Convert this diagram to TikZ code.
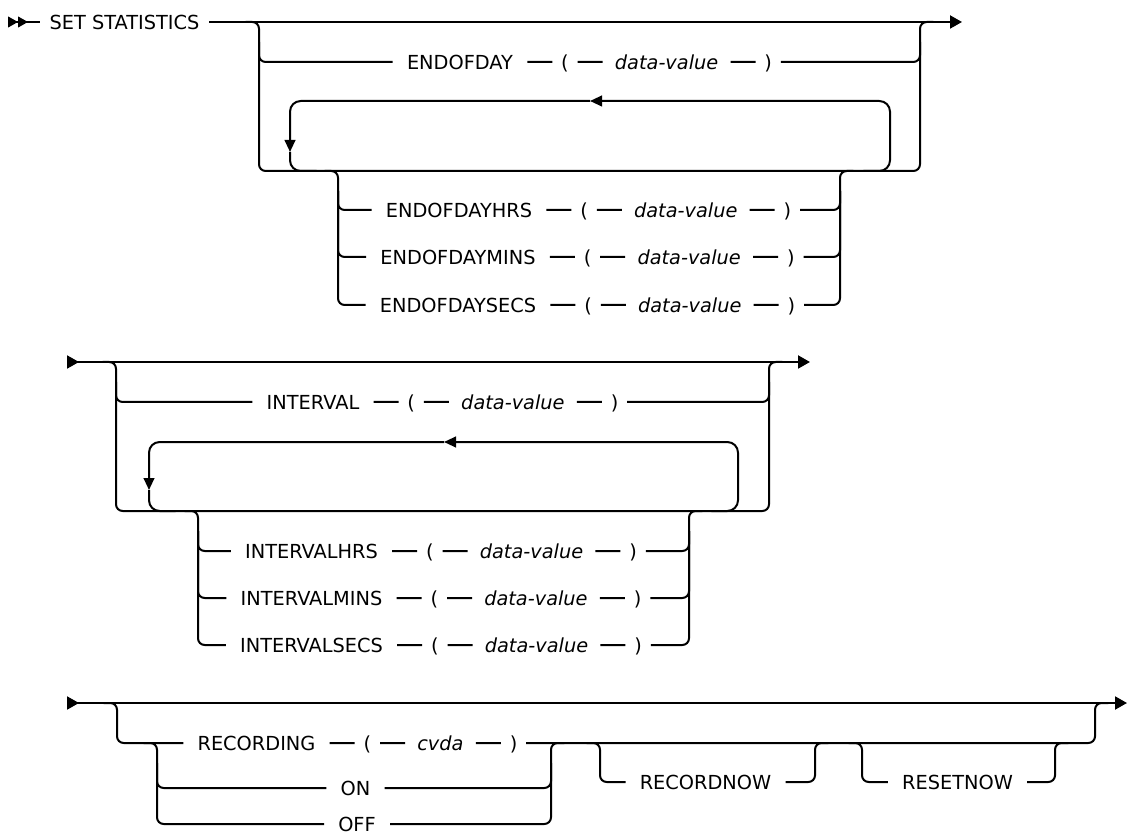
\documentclass[tikz,border=0pt]{standalone}
\usepackage{fontspec}
\setmainfont{DejaVu Sans}
\usetikzlibrary{positioning,arrows.meta}
\newcommand{\railfont}{\fontsize{14.5pt}{17pt}\selectfont}
\tikzset{word/.style={font=\railfont, inner xsep=10.5pt, inner ysep=0pt, text height=12pt, text depth=1.4pt},
         paren/.style={word, inner xsep=6.5pt},
         var/.style={word, inner xsep=9pt, font=\railfont\itshape},
         rail/.style={line width=1.5pt},
         fork/.style={rail, rounded corners=5pt},
         repeat/.style={rail, rounded corners=8pt}}

\begin{document}
\begin{tikzpicture}[x=0.75pt, y=-0.75pt, node distance=18.75pt]
                    \useasboundingbox (0,0) rectangle (1127,837);

                    \coordinate (s1) at (8,22);
                    \coordinate (e1) at (962,22);
                    \coordinate (L1) at (259,22);
                    \coordinate (R1) at (920,22);
                    \coordinate (L1b) at (259,171);
                    \coordinate (R1b) at (920,171);
                    \coordinate (P1) at (290,171);
                    \coordinate (P2) at (890,171);
                    \coordinate (la1) at (590,101);
                    \coordinate (ld1) at (290,152);
                    \coordinate (H1) at (338,171);
                    \coordinate (H2) at (840,171);

                    \node[word, inner xsep=7pt] (sst) at (124.5,22) {SET STATISTICS};
                    \node[word] (eod) at (460,62) {ENDOFDAY};
                    \node[paren, right=of eod] (eodl) {(};
                    \node[var, right=of eodl] (eodv) {data-value};
                    \node[paren, right=of eodv] (eodr) {)};
                    \node[word] (edh) at (459,210) {ENDOFDAYHRS};
                    \node[paren, right=of edh] (edhl) {(};
                    \node[var, right=of edhl] (edhv) {data-value};
                    \node[paren, right=of edhv] (edhr) {)};
                    \node[word] (edm) at (458,257) {ENDOFDAYMINS};
                    \node[paren, right=of edm] (edml) {(};
                    \node[var, right=of edml] (edmv) {data-value};
                    \node[paren, right=of edmv] (edmr) {)};
                    \node[word] (eds) at (458,305) {ENDOFDAYSECS};
                    \node[paren, right=of eds] (edsl) {(};
                    \node[var, right=of edsl] (edsv) {data-value};
                    \node[paren, right=of edsv] (edsr) {)};

                    \draw[rail, {Triangle[reversed,length=7.5pt,width=8pt]Triangle[reversed,length=7.5pt,width=8pt]}-] (s1) -- (sst);
                    \draw[rail, -{Triangle[length=9pt,width=9.75pt]}] (sst) -- (e1);
                    \draw[fork] ([xshift=-10pt]L1) -- (L1) -- (L1b) -- (R1b) -- (R1) -- ([xshift=10pt]R1);
                    \draw[fork] ([yshift=-15pt]L1) |- (eod) -- (eodl) -- (eodv) -- (eodr) -| ([yshift=-15pt]R1);

                    \draw[repeat, -{Triangle[length=9pt,width=8pt]}] ([xshift=-20pt]P2) -- (P2) |- (la1);
                    \draw[repeat, -{Triangle[length=9pt,width=8pt]}] (la1) -| (ld1);
                    \draw[repeat] (ld1) |- ([xshift=20pt]P1);

                    \draw[fork] ([yshift=-15pt]H1) |- (edh) -- (edhl) -- (edhv) -- (edhr) -| ([yshift=-15pt]H2);
                    \draw[fork] ([yshift=-15pt]H1) |- (edm) -- (edml) -- (edmv) -- (edmr) -| ([yshift=-15pt]H2);
                    \draw[fork] ([xshift=-10pt]H1) -- (H1) |- (eds) -- (edsl) -- (edsv) -- (edsr) -| (H2) -- ([xshift=10pt]H2);

                    \coordinate (s2) at (67,362);
                    \coordinate (e2) at (810,362);
                    \coordinate (L2) at (116,362);
                    \coordinate (R2) at (769,362);
                    \coordinate (L2b) at (116,511);
                    \coordinate (R2b) at (769,511);
                    \coordinate (P3) at (149,511);
                    \coordinate (P4) at (738,511);
                    \coordinate (la2) at (444,442);
                    \coordinate (ld2) at (149,490);
                    \coordinate (H3) at (198,511);
                    \coordinate (H4) at (689,511);

                    \node[word] (itv) at (313,402) {INTERVAL};
                    \node[paren, right=of itv] (itvl) {(};
                    \node[var, right=of itvl] (itvv) {data-value};
                    \node[paren, right=of itvv] (itvr) {)};
                    \node[word] (ith) at (311.5,551) {INTERVALHRS};
                    \node[paren, right=of ith] (ithl) {(};
                    \node[var, right=of ithl] (ithv) {data-value};
                    \node[paren, right=of ithv] (ithr) {)};
                    \node[word] (itm) at (311.5,598) {INTERVALMINS};
                    \node[paren, right=of itm] (itml) {(};
                    \node[var, right=of itml] (itmv) {data-value};
                    \node[paren, right=of itmv] (itmr) {)};
                    \node[word] (its) at (311.5,645) {INTERVALSECS};
                    \node[paren, right=of its] (itsl) {(};
                    \node[var, right=of itsl] (itsv) {data-value};
                    \node[paren, right=of itsv] (itsr) {)};

                    \draw[rail, {Triangle[reversed,length=9pt,width=9.75pt]}-{Triangle[length=9pt,width=9.75pt]}] (s2) -- (e2);
                    \draw[fork] ([xshift=-10pt]L2) -- (L2) -- (L2b) -- (R2b) -- (R2) -- ([xshift=10pt]R2);
                    \draw[fork] ([yshift=-15pt]L2) |- (itv) -- (itvl) -- (itvv) -- (itvr) -| ([yshift=-15pt]R2);

                    \draw[repeat, -{Triangle[length=9pt,width=8pt]}] ([xshift=-20pt]P4) -- (P4) |- (la2);
                    \draw[repeat, -{Triangle[length=9pt,width=8pt]}] (la2) -| (ld2);
                    \draw[repeat] (ld2) |- ([xshift=20pt]P3);

                    \draw[fork] ([yshift=-15pt]H3) |- (ith) -- (ithl) -- (ithv) -- (ithr) -| ([yshift=-15pt]H4);
                    \draw[fork] ([yshift=-15pt]H3) |- (itm) -- (itml) -- (itmv) -- (itmr) -| ([yshift=-15pt]H4);
                    \draw[fork] ([xshift=-10pt]H3) -- (H3) |- (its) -- (itsl) -- (itsv) -- (itsr) -| (H4) -- ([xshift=10pt]H4);

                    \coordinate (s3) at (67,703);
                    \coordinate (e3) at (1127,703);
                    \coordinate (L3) at (117,703);
                    \coordinate (R3) at (1095,703);
                    \coordinate (C1) at (157,743);
                    \coordinate (C2) at (551,743);
                    \coordinate (N1) at (600,743);
                    \coordinate (N2) at (815,743);
                    \coordinate (N3) at (862,743);
                    \coordinate (N4) at (1055,743);

                    \node[word] (rec) at (256.5,743) {RECORDING};
                    \node[paren, right=of rec] (recl) {(};
                    \node[var, right=of recl] (recv) {cvda};
                    \node[paren, right=of recv] (recr) {)};
                    \node[word] (on) at (355.5,788) {ON};
                    \node[word] (off) at (357,824) {OFF};
                    \node[word] (rnow) at (705.5,782) {RECORDNOW};
                    \node[word] (rset) at (957.5,782) {RESETNOW};

                    \draw[rail, {Triangle[reversed,length=9pt,width=9.75pt]}-{Triangle[length=9pt,width=9.75pt]}] (s3) -- (e3);
                    \draw[fork] ([xshift=-10pt]L3) -- (L3) |- (rec) -- (recl) -- (recv) -- (recr) -| (R3) -- ([xshift=10pt]R3);
                    \draw[fork] ([xshift=-10pt]C1) -- (C1) |- (off) -| (C2) -- ([xshift=10pt]C2);
                    \draw[fork] ([yshift=-15pt]C1) |- (on) -| ([yshift=-15pt]C2);
                    \draw[fork] ([xshift=-10pt]N1) -- (N1) |- (rnow) -| (N2) -- ([xshift=10pt]N2);
                    \draw[fork] ([xshift=-10pt]N3) -- (N3) |- (rset) -| (N4) -- ([xshift=10pt]N4);

                 \end{tikzpicture}
\end{document}
